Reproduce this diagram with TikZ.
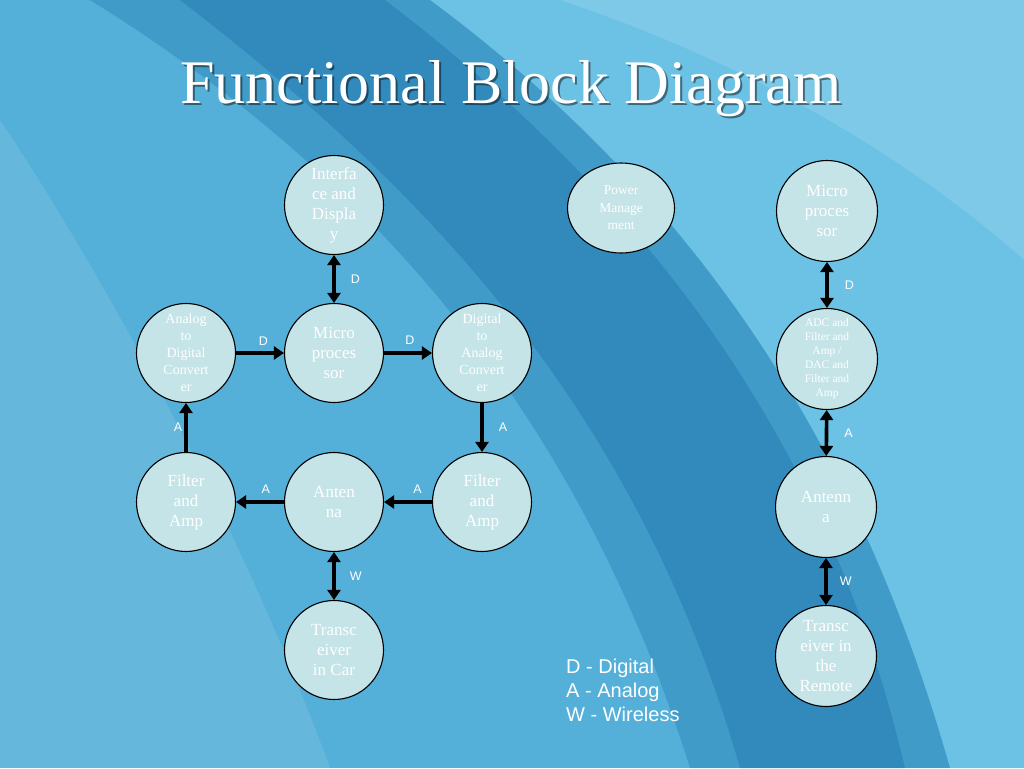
\documentclass[tikz,border=0pt]{standalone}
\usepackage{fontspec}
\setmainfont{Liberation Serif}
\setsansfont{Liberation Sans}
\usetikzlibrary{arrows.meta,positioning,shapes.geometric}
\definecolor{bgleft}{RGB}{84,176,216}
\definecolor{bgright}{RGB}{108,194,228}
\definecolor{bgdark}{RGB}{30,118,172}
\definecolor{blkfill}{RGB}{196,228,232}

\begin{document}
\begin{tikzpicture}[x=1pt,y=-1pt,
  >={Triangle[length=10pt,width=13pt]},
  blk/.style={circle, draw=black, line width=1.1pt, fill=blkfill, text=white,
    inner sep=0pt, minimum size=99pt, align=center,
    font=\fontsize{17}{20}\selectfont},
  blksm/.style={blk, font=\fontsize{14}{17}\selectfont},
  blktiny/.style={blk, font=\fontsize{11.5}{14}\selectfont},
  pwr/.style={ellipse, draw=black, line width=1.1pt, fill=blkfill, text=white,
    inner sep=0pt, minimum width=107pt, minimum height=90pt, align=center,
    font=\fontsize{13.5}{17.5}\selectfont},
  lnk/.style={draw=black, line width=3.6pt},
  lbl/.style={text=white, inner sep=0pt, font=\sffamily\fontsize{12.5}{14}\selectfont},
  ttl/.style={anchor=base, inner sep=0pt, font=\fontsize{62}{70}\selectfont}]

% ===== background =====
\fill[bgleft] (0,0) rectangle (1024,768);
\fill[bgright] (430,0) .. controls (700,200) and (860,450) .. (950,768)
  -- (1024,768) -- (1024,0) -- cycle;
\fill[bgdark, opacity=.35] (90,0) .. controls (380,180) and (580,420) .. (690,768)
  -- (950,768) .. controls (860,450) and (700,200) .. (430,0) -- cycle;
\fill[bgdark, opacity=.45] (180,0) .. controls (440,200) and (640,420) .. (740,768)
  -- (905,768) .. controls (830,450) and (660,210) .. (385,0) -- cycle;
\fill[white, opacity=.10] (0,120) .. controls (120,300) and (250,550) .. (330,768)
  -- (0,768) -- cycle;
\fill[white, opacity=.12] (560,0) .. controls (740,60) and (900,150) .. (1024,260)
  -- (1024,0) -- cycle;

% ===== title =====
\node[ttl, text=black, opacity=.45] (ttlshadow) at (513,105) {Functional Block Diagram};
\node[ttl, text=white] (title) at (511,103) {Functional Block Diagram};

% ===== car unit =====
\node[blk]     (ifc)  at (334,205) {Interfa\\ce and\\Displa\\y};
\node[blk]     (mcu)  at (334,353) {Micro\\proces\\sor};
\node[blksm]   (adcl) at (186,353) {Analog\\to\\Digital\\Convert\\er};
\node[blksm]   (dacl) at (482,353) {Digital\\to\\Analog\\Convert\\er};
\node[blk]     (filtl) at (186,502) {Filter\\and\\Amp};
\node[blk]     (ant)  at (334,502) {Anten\\na};
\node[blk]     (filtr) at (482,502) {Filter\\and\\Amp};
\node[blk]     (trxc) at (334,650) {Transc\\eiver\\in Car};

% ===== power =====
\node[pwr]     (pwm)  at (621,208) {Power\\Manage\\ment};

% ===== remote unit =====
\node[blk, minimum size=101pt]     (mcur) at (827,211) {Micro\\proces\\sor};
\node[blktiny, minimum size=101pt] (afe)  at (827,359) {ADC and\\Filter and\\Amp /\\DAC and\\Filter and\\Amp};
\node[blk, minimum size=101pt]     (antr) at (826,507) {Antenn\\a};
\node[blk, minimum size=101pt]     (trxr) at (826,656) {Transc\\eiver in\\the\\Remote};

% ===== legend =====
\node[anchor=north west, inner sep=0pt, align=left, text=white,
  font=\sffamily\fontsize{20}{24}\selectfont] (key) at (566,659)
  {D - Digital\\A - Analog\\W - Wireless};

% ===== edges =====
\draw[lnk,<->] (ifc) -- node[lbl,right=15pt]{D} (mcu);
\draw[lnk,->] (adcl) -- node[lbl,above=6pt,pos=.57]{D} (mcu);
\draw[lnk,->] (mcu) -- node[lbl,above=7pt,pos=.54]{D} (dacl);
\draw[lnk,->] (dacl) -- node[lbl,right=15pt]{A} (filtr);
\draw[lnk,->] (filtr) -- node[lbl,above=7pt,pos=.3]{A} (ant);
\draw[lnk,->] (ant) -- node[lbl,above=7pt,pos=.38]{A} (filtl);
\draw[lnk,->] (filtl) -- node[lbl,left=2pt]{A} (adcl);
\draw[lnk,<->] (ant) -- node[lbl,right=14pt]{W} (trxc);
\draw[lnk,<->] (mcur) -- node[lbl,right=16pt]{D} (afe);
\draw[lnk,<->] (afe) -- node[lbl,right=16pt]{A} (antr);
\draw[lnk,<->] (antr) -- node[lbl,right=12pt]{W} (trxr);

\end{tikzpicture}
\end{document}
